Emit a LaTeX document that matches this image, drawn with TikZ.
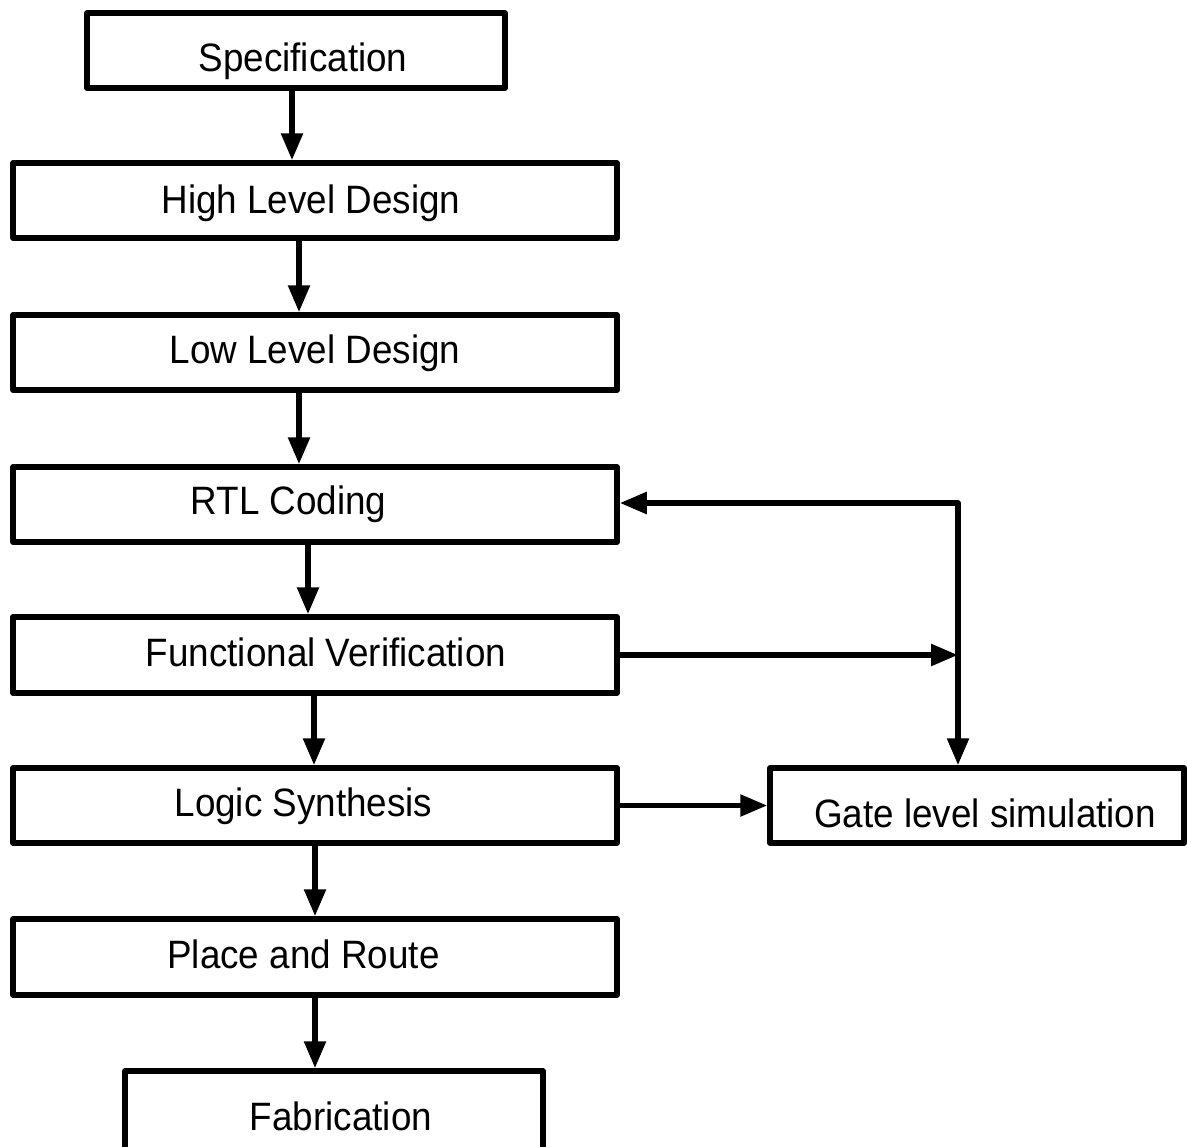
\documentclass[tikz,border=0pt]{standalone}
\usepackage{fontspec}
\setmainfont{Liberation Sans}[FakeStretch=0.93]
\usetikzlibrary{arrows.meta}
\begin{document}
\begin{tikzpicture}[x=0.5pt, y=-0.5pt,
  flowbox/.style={draw=black, line width=2.75pt, line join=round, fill=white,
    rectangle, inner sep=0pt, minimum height=37.5pt},
  wide/.style={minimum width=302pt},
  narrow/.style={minimum width=209pt},
  caption/.style={anchor=base, inner sep=0pt, font=\fontsize{19.8}{23}\selectfont},
  link/.style={line width=2.75pt, line join=round,
    -{Triangle[length=13.5pt, width=10.5pt]}},
  twoway/.style={line width=2.75pt, line join=round,
    {Triangle[length=13.5pt, width=10.5pt]}-{Triangle[length=13.5pt, width=10.5pt]}}
]
\useasboundingbox (0,0) rectangle (1187,1146);
\fill[white] (0,0) rectangle (1187,1146);

% process boxes
\node[flowbox, narrow] (spec) at (296,50.5) {};
\node[flowbox, wide]   (hld)  at (315,200.5) {};
\node[flowbox, wide]   (lld)  at (315,352.5) {};
\node[flowbox, wide]   (rtl)  at (315,504.5) {};
\node[flowbox, wide, minimum height=38pt] (fv) at (315,655) {};
\node[flowbox, wide]   (ls)   at (315,805.5) {};
\node[flowbox, wide, minimum height=38pt] (pr) at (315,957) {};
\node[flowbox, narrow, minimum height=41pt] (fab) at (334,1112) {};
\node[flowbox, minimum width=207pt] (gate) at (977,805.5) {};

% box captions
\node[caption] (spec-t) at (303,71)  {Specification};
\node[caption] (hld-t)  at (311,213) {High Level Design};
\node[caption] (lld-t)  at (315,363) {Low Level Design};
\node[caption] (rtl-t)  at (288.5,514) {RTL Coding};
\node[caption] (fv-t)   at (326,666) {Functional Verification};
\node[caption] (ls-t)   at (303.5,816) {Logic Synthesis};
\node[caption] (pr-t)   at (303.5,968) {Place and Route};
\node[caption] (fab-t)  at (341,1130) {Fabrication};
\node[caption] (gate-t) at (985,827) {Gate level simulation};

% connector columns and junctions
\coordinate (c1) at (292,0);
\coordinate (c2) at (299,0);
\coordinate (c3) at (299,0);
\coordinate (c4) at (308,0);
\coordinate (c5) at (314,0);
\coordinate (c6) at (315,0);
\coordinate (c7) at (315,0);
\coordinate (jtop) at (958,503);
\coordinate (jmid) at (958,655);

% main flow
\draw[link] (spec.south -| c1) -- (hld.north -| c1);
\draw[link] (hld.south -| c2) -- (lld.north -| c2);
\draw[link] (lld.south -| c3) -- (rtl.north -| c3);
\draw[link] (rtl.south -| c4) -- (fv.north -| c4);
\draw[link] (fv.south -| c5) -- (ls.north -| c5);
\draw[link] (ls.south -| c6) -- (pr.north -| c6);
\draw[link] (pr.south -| c7) -- (fab.north -| c7);

% side branch
\draw[link] (fv.east) -- (jmid);
\draw[twoway] (rtl.east |- jtop) -- (jtop) -- (gate.north -| jtop);
\draw[link] (ls.east) -- (gate.west);
\end{tikzpicture}
\end{document}
